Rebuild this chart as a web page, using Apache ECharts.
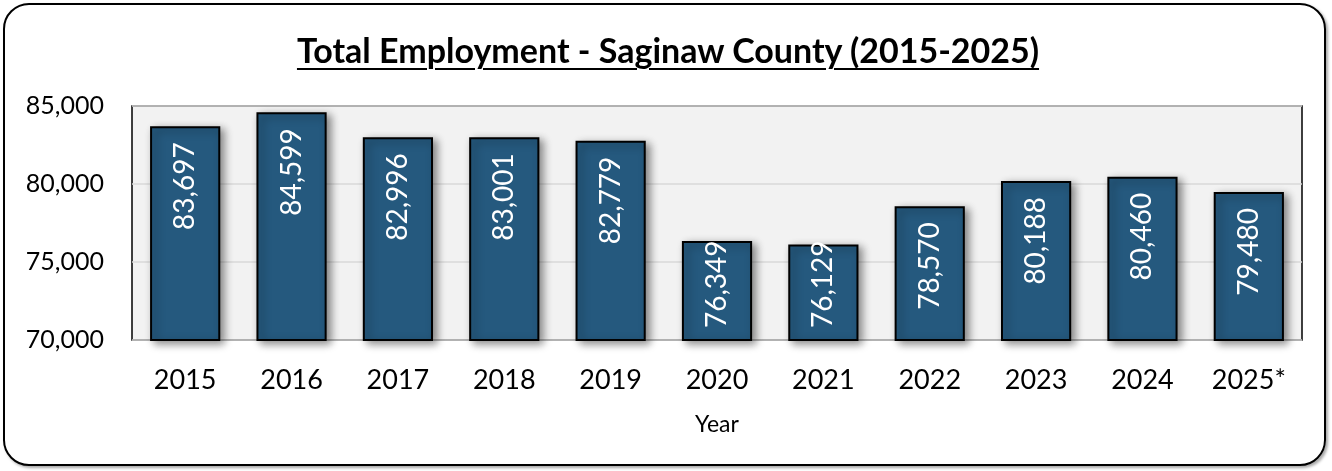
<!DOCTYPE html>
<html>
<head>
<meta charset="utf-8">
<script src="https://cdn.jsdelivr.net/npm/echarts@6/dist/echarts.min.js"></script>
<style>
  html, body { margin: 0; padding: 0; background: #fff; }
  #wrap { position: relative; width: 1332px; height: 471px; }
  #frame { position: absolute; left: 3px; top: 3px; width: 1323px; height: 463px;
    border: 2px solid #000; border-radius: 26px; box-sizing: border-box;
    box-shadow: 2px 2px 3px rgba(0,0,0,0.35); }
  #title { position: absolute; left: 0; width: 1336px; top: 30px; text-align: center;
    font-family: Lato, "Noto Sans", sans-serif; font-weight: bold; font-size: 34px;
    line-height: 40px;
    text-decoration: underline; text-decoration-thickness: 2px; text-underline-offset: 5px; color: #000; }
  #chart { position: absolute; left: 0; top: 0; width: 1332px; height: 471px; }
</style>
</head>
<body>
<div id="wrap">
  <div id="frame"></div>
  <div id="chart"></div>
  <div id="title">Total Employment - Saginaw County (2015-2025)</div>
</div>
<script>
    // 年份
    var years = ['2015', '2016', '2017', '2018', '2019', '2020', '2021', '2022', '2023', '2024', '2025*'];
    // 就业总数
    var employment = [83697, 84599, 82996, 83001, 82779, 76349, 76129, 78570, 80188, 80460, 79480];

    var font = 'Lato, "Noto Sans", sans-serif';
    // 柱子太矮时标签贴底显示
    var seriesData = employment.map(function (v) {
        if (v < 77400) {
            return { value: v, label: { position: 'insideBottom', align: 'left', distance: 13 } };
        }
        return v;
    });

    var myChart = echarts.init(document.getElementById('chart'));
    var option = {
        animation: false,
        grid: {
            left: 132, right: 30, top: 106, bottom: 131,
            show: true,
            backgroundColor: '#f2f2f2',
            borderColor: '#000',
            borderWidth: 1.5
        },
        xAxis: {
            type: 'category',
            data: years,
            name: 'Year',
            nameLocation: 'middle',
            nameGap: 73,
            nameTextStyle: { fontFamily: font, fontSize: 23, color: '#000' },
            axisLine: { show: false },
            axisTick: { show: false },
            axisLabel: { fontFamily: font, fontSize: 27, color: '#000', margin: 27 }
        },
        yAxis: {
            type: 'value',
            min: 70000, max: 85000, interval: 5000,
            axisLine: { show: false },
            axisTick: { show: false },
            splitLine: { lineStyle: { color: '#d9d9d9', width: 1.5 } },
            axisLabel: {
                fontFamily: font, fontSize: 25, color: '#000', margin: 28,
                formatter: function (v) { return v.toLocaleString('en-US'); }
            }
        },
        series: [{
            type: 'bar',
            data: seriesData,
            barWidth: '66%',
            itemStyle: {
                color: '#25597e',
                borderColor: '#000',
                borderWidth: 2,
                shadowColor: 'rgba(0,0,0,0.45)',
                shadowBlur: 8,
                shadowOffsetX: 4,
                shadowOffsetY: 3
            },
            label: {
                show: true,
                position: 'insideTop',
                rotate: 90,
                align: 'right',
                verticalAlign: 'middle',
                distance: 16,
                color: '#fff',
                fontFamily: font,
                fontSize: 28,
                formatter: function (p) { return p.value.toLocaleString('en-US'); }
            }
        }]
    };
    myChart.setOption(option);
</script>
</body>
</html>
